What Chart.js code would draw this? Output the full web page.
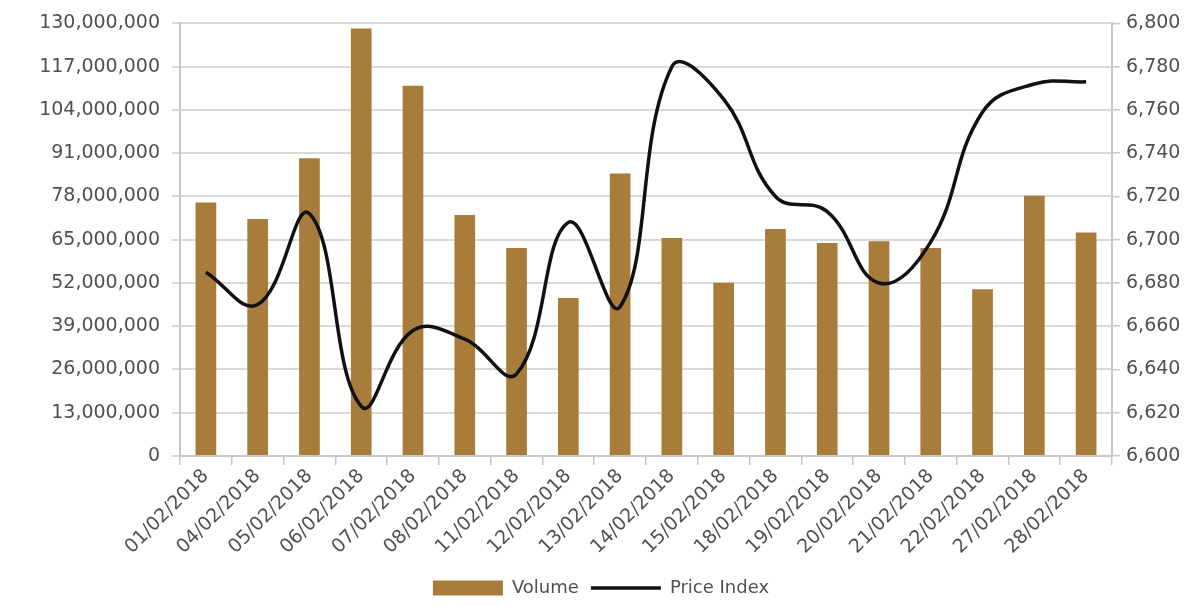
<!DOCTYPE html>
<html>
<head>
<meta charset="utf-8">
<script src="https://cdn.jsdelivr.net/npm/chart.js@4/dist/chart.umd.min.js"></script>
<style>
  html, body { margin: 0; padding: 0; background: #fff; }
  #wrap { width: 1202px; height: 607px; position: relative; }
</style>
</head>
<body>
<div id="wrap"><canvas id="chart"></canvas></div>
<script>
// Trading days, February 2018
const categories = [
  '01/02/2018', '04/02/2018', '05/02/2018', '06/02/2018', '07/02/2018', '08/02/2018',
  '11/02/2018', '12/02/2018', '13/02/2018', '14/02/2018', '15/02/2018', '18/02/2018',
  '19/02/2018', '20/02/2018', '21/02/2018', '22/02/2018', '27/02/2018', '28/02/2018',
];

// Volume (left axis)
const volume = [
  76200000, 71200000, 89500000, 128500000, 111300000, 72400000,
  62500000, 47500000, 84900000, 65500000, 52100000, 68200000,
  64000000, 64500000, 62500000, 50100000, 78200000, 67200000,
];

// Price Index (right axis)
const priceIndex = [
  6685, 6670, 6712, 6623, 6658, 6654,
  6638, 6708, 6669, 6780, 6765, 6720,
  6713, 6680, 6699, 6759, 6772, 6773,
];

const volumeTicks = [0, 13000000, 26000000, 39000000, 52000000, 65000000, 78000000,
  91000000, 104000000, 117000000, 130000000];
const priceTicks = [6600, 6620, 6640, 6660, 6680, 6700, 6720, 6740, 6760, 6780, 6800];

const TEXT = '#505050';
const GRID = '#d9d9d9';
const FONT = 'DejaVu Sans, Verdana, sans-serif';

const fmt = v => Number(v).toLocaleString('en-US');

new Chart(document.getElementById('chart'), {
  data: {
    labels: categories,
    datasets: [
      {
        type: 'bar',
        label: 'Volume',
        data: volume,
        yAxisID: 'y',
        backgroundColor: '#a87d3c',
        borderWidth: 0,
        barPercentage: 0.4,
        categoryPercentage: 1,
        pointStyle: 'rect',
        order: 2,
      },
      {
        type: 'line',
        label: 'Price Index',
        data: priceIndex,
        yAxisID: 'y1',
        borderColor: '#111111',
        backgroundColor: '#111111',
        borderWidth: 3.5,
        tension: 0.42,
        pointRadius: 0,
        pointHoverRadius: 0,
        pointStyle: 'line',
        fill: false,
        order: 1,
      },
    ],
  },
  options: {
    responsive: true,
    maintainAspectRatio: false,
    animation: false,
    layout: { padding: { top: 8, left: 0, right: 0, bottom: 0 } },
    plugins: {
      title: { display: false },
      tooltip: { enabled: false },
      legend: {
        position: 'bottom',
        labels: {
          usePointStyle: true,
          pointStyleWidth: 70,
          boxHeight: 15,
          padding: 12,
          color: TEXT,
          font: { size: 18, family: FONT },
          sort: (a, b) => a.datasetIndex - b.datasetIndex,
        },
      },
    },
    scales: {
      x: {
        offset: true,
        grid: {
          offset: true,
          drawOnChartArea: false,
          drawTicks: true,
          tickLength: 9,
          color: '#c8c8c8',
          lineWidth: 1.5,
        },
        border: { color: '#c8c8c8', width: 2 },
        ticks: {
          color: TEXT,
          font: { size: 19, family: FONT },
          minRotation: 45,
          maxRotation: 45,
          autoSkip: false,
          padding: 0,
        },
        afterFit: s => { s.height = 111; },
      },
      y: {
        position: 'left',
        min: 0,
        max: 130000000,
        afterBuildTicks: s => { s.ticks = volumeTicks.map(v => ({ value: v })); },
        grid: { color: GRID, lineWidth: 2, tickLength: 8 },
        border: { color: '#c8c8c8', width: 2 },
        ticks: {
          color: TEXT,
          font: { size: 19, family: FONT },
          padding: 12,
          callback: v => fmt(v),
        },
        afterFit: s => { s.width = 180; },
      },
      y1: {
        position: 'right',
        min: 6600,
        max: 6800,
        afterBuildTicks: s => { s.ticks = priceTicks.map(v => ({ value: v })); },
        grid: { drawOnChartArea: false, color: '#c8c8c8', lineWidth: 1.5, tickLength: 8 },
        border: { color: '#c8c8c8', width: 2 },
        ticks: {
          color: TEXT,
          font: { size: 19, family: FONT },
          padding: 6,
          callback: v => fmt(v),
        },
        afterFit: s => { s.width = 90; },
      },
    },
  },
});
</script>
</body>
</html>
